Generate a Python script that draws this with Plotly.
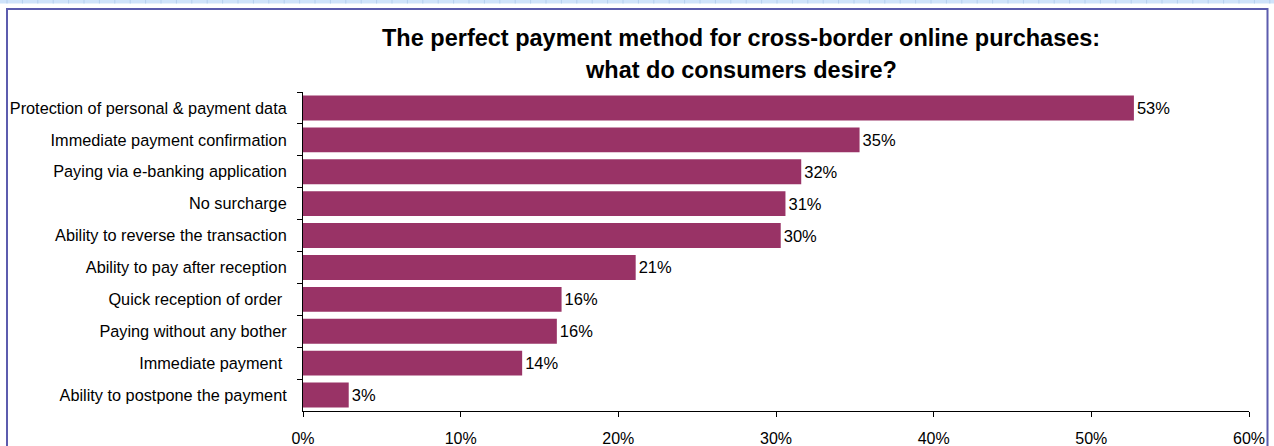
import plotly.graph_objects as go

# Survey answers, top to bottom
categories = [
    "Protection of personal & payment data",
    "Immediate payment confirmation",
    "Paying via e-banking application",
    "No surcharge",
    "Ability to reverse the transaction",
    "Ability to pay after reception",
    "Quick reception of order ",
    "Paying without any bother",
    "Immediate payment ",
    "Ability to postpone the payment",
]
shares = [52.7, 35.3, 31.6, 30.6, 30.3, 21.1, 16.4, 16.1, 13.9, 2.9]
x_ticks = [0, 10, 20, 30, 40, 50, 60]
title_lines = [
    "The perfect payment method for cross-border online purchases:",
    "what do consumers desire?",
]

W, H = 1274, 446
ML, MR, MT, MB = 303, 25, 92, 35
PW, PH = W - ML - MR, H - MT - MB
FONT = "Arial, Liberation Sans, sans-serif"


def px_x(p):
    return (p - ML) / PW


def px_y(p):
    return (H - MB - p) / PH


fig = go.Figure(
    go.Bar(
        x=shares,
        y=categories,
        orientation="h",
        marker=dict(color="#993366", line=dict(width=0)),
        texttemplate="%{x:.0f}%",
        textposition="outside",
        textfont=dict(family=FONT, size=16.5, color="#000000"),
        cliponaxis=False,
        hoverinfo="skip",
    )
)

shapes = []
# light spreadsheet strip along the top edge
shapes.append(dict(type="rect", xref="paper", yref="paper",
                   x0=px_x(0), x1=px_x(W), y0=px_y(3.5), y1=px_y(0),
                   fillcolor="#cfe3fa", line=dict(width=0), layer="below"))
gx = 7.0
while gx < W:
    shapes.append(dict(type="line", xref="paper", yref="paper",
                       x0=px_x(gx), x1=px_x(gx), y0=px_y(3.5), y1=px_y(0),
                       line=dict(color="#b5cfee", width=1)))
    gx += 15.4
# frame around the chart
shapes.append(dict(type="path", xref="paper", yref="paper",
                   path=(f"M {px_x(7)} {px_y(H + 5)} L {px_x(7)} {px_y(9)} "
                         f"L {px_x(1267.5)} {px_y(9)} L {px_x(1267.5)} {px_y(H + 5)}"),
                   line=dict(color="#5c5cae", width=2)))

annotations = []
for line, cy in zip(title_lines, [38.5, 70]):
    annotations.append(dict(
        text=f"<b>{line}</b>", xref="paper", yref="paper",
        x=px_x(741), y=px_y(cy), xanchor="center", yanchor="middle",
        showarrow=False, font=dict(family=FONT, size=23.5, color="#000000"),
    ))

fig.update_layout(
    width=W, height=H,
    margin=dict(l=ML, r=MR, t=MT, b=MB, pad=0),
    paper_bgcolor="#ffffff", plot_bgcolor="#ffffff",
    showlegend=False,
    bargap=0.22,
    shapes=shapes,
    annotations=annotations,
    font=dict(family=FONT, size=16, color="#000000"),
)

fig.update_xaxes(
    range=[0, 60], tickvals=x_ticks, ticktext=[f"{v}%" for v in x_ticks],
    showgrid=False, zeroline=False, showline=True, linecolor="#000000", linewidth=1,
    ticks="outside", ticklen=5, tickcolor="#000000", tickwidth=1,
    ticklabelstandoff=8, automargin=False,
    tickfont=dict(family=FONT, size=16, color="#000000"),
)
fig.update_yaxes(
    type="category", categoryorder="array", categoryarray=categories,
    autorange="reversed",
    showgrid=False, zeroline=False, showline=True, linecolor="#000000", linewidth=1,
    ticks="outside", ticklen=5, tickcolor="#000000", tickwidth=1,
    tickson="boundaries", ticklabelstandoff=12, automargin=False,
    tickfont=dict(family=FONT, size=16.3, color="#000000"),
)

fig.write_html("out.html")
